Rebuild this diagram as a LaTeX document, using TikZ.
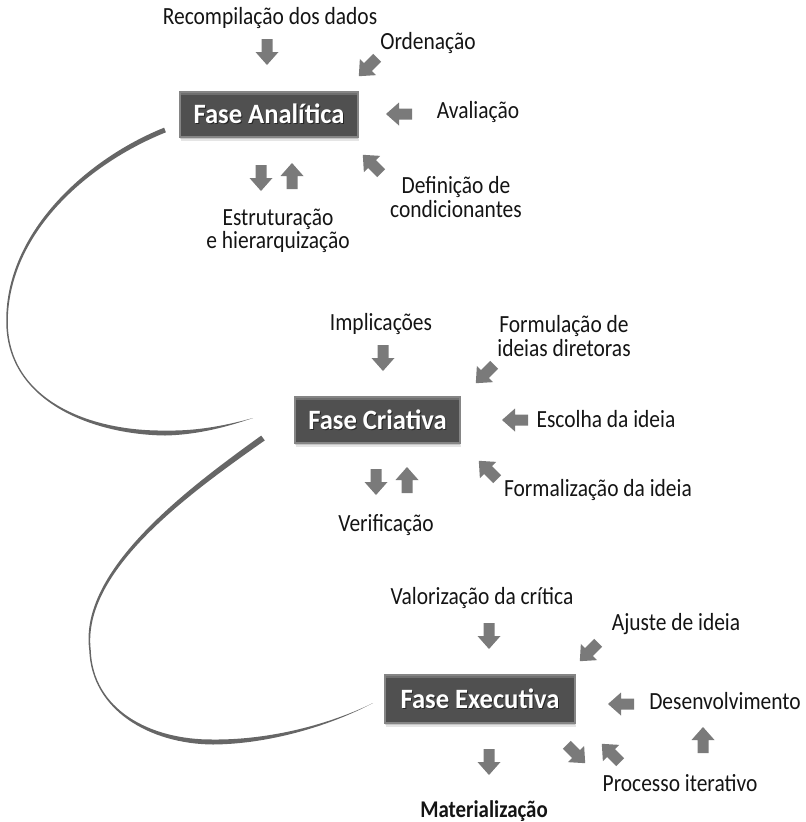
\documentclass[tikz,border=0pt]{standalone}
\usepackage{fontspec}
\setmainfont{Carlito}[FakeStretch=0.87]
\newfontfamily\phasefont{Carlito}[FakeStretch=0.95]

\definecolor{boxgray}{HTML}{505050}
\definecolor{boxedge}{HTML}{858585}
\definecolor{arrowgray}{HTML}{7A7A7A}
\definecolor{ribbongray}{HTML}{666666}
\definecolor{labelink}{HTML}{141414}

% white heading text with a soft dark drop shadow
\newcommand\phasetext[1]{\makebox[0pt][l]{\hspace{0.8pt}\raisebox{-0.8pt}{\color{black!85}#1}}#1}

\tikzset{
  phase/.style={rectangle, fill=boxgray, draw=boxedge, line width=0.9pt,
    text=white, inner sep=0pt,
    font=\phasefont\bfseries\fontsize{21}{25}\selectfont,
    preaction={fill=black, opacity=0.10, transform canvas={xshift=0.6pt,yshift=-3.2pt}},
    preaction={fill=black, opacity=0.14, transform canvas={xshift=0.3pt,yshift=-1.8pt}},
    path picture={\fill[white,opacity=0.18]
      (path picture bounding box.north west) rectangle
      ([yshift=-2.4pt]path picture bounding box.north east);}},
  lbl/.style={inner sep=0pt, align=center, text=labelink,
    font=\fontsize{18.5}{17.6}\selectfont},
  ribbon/.style={fill=ribbongray},
  blockarrow/.pic={\fill[arrowgray] (-13,-5.5) -- (0,-5.5) -- (0,-11.5) -- (13,0)
    -- (0,11.5) -- (0,5.5) -- (-13,5.5) -- cycle;}
}

\begin{document}
\begin{tikzpicture}[x=0.75pt,y=-0.75pt]
\useasboundingbox (0,0) rectangle (806,822);

% tapered ribbon from the analytic phase to the creative phase
\fill[ribbon] (164.1,127.7) .. controls (89.1,157.7) and (6.5,229.85) .. (6.25,320)
  .. controls (5.25,400) and (90,434.5) .. (165,435.5)
  .. controls (200,434.75) and (230.2,425.7) .. (253,418)
  .. controls (229.8,424.3) and (200,431.25) .. (165,430.5)
  .. controls (90,431.5) and (6.75,400) .. (7.75,320)
  .. controls (9.5,230.15) and (90.9,162.3) .. (165.9,132.3) -- cycle;

% tapered ribbon from the creative phase to the executive phase
\fill[ribbon] (261.2,435.6) .. controls (188.5,488) and (78.6,569.6) .. (89.25,650)
  .. controls (91.4,710.4) and (150,744) .. (213,744.5)
  .. controls (270,744) and (330.2,725.7) .. (373,703)
  .. controls (329.8,724.3) and (270,740) .. (213,739.5)
  .. controls (150,740) and (92.6,709.6) .. (90.75,650)
  .. controls (81.4,570.4) and (191.5,492) .. (264.8,440.4) -- cycle;

% phase boxes
\node[phase, minimum width=133.5pt, minimum height=33.75pt] (analitica) at (269,114.5) {\phasetext{Fase Analítica}};
\node[phase, minimum width=123.75pt, minimum height=34.5pt] (criativa) at (377.5,420) {\phasetext{Fase Criativa}};
\node[phase, minimum width=142.5pt, minimum height=36pt] (executiva) at (480,699) {\phasetext{Fase Executiva}};

% analytic phase
\node[lbl] (recomp) at (270,18) {Recompilação dos dados};
\node[lbl] (orden) at (428,43) {Ordenação};
\node[lbl] (aval) at (478,112) {Avaliação};
\node[lbl] (defcond) at (456,197) {Definição de\\condicionantes};
\node[lbl] (estrut) at (278,231) {Estruturação\\e hierarquização};
\pic[rotate=-90] (aRecomp) at (267,52) {blockarrow};
\pic[rotate=-135] (aOrden) at (368,67) {blockarrow};
\pic[rotate=180] (aAval) at (399,114) {blockarrow};
\pic[rotate=135] (aDef) at (372,164) {blockarrow};
\pic[rotate=-90] (aEstDown) at (261,178) {blockarrow};
\pic[rotate=90] (aEstUp) at (292,176) {blockarrow};

% creative phase
\node[lbl] (impl) at (381,324) {Implicações};
\node[lbl] (formul) at (564,336) {Formulação de\\ideias diretoras};
\node[lbl] (escolha) at (606,419) {Escolha da ideia};
\node[lbl] (formal) at (598,490) {Formalização da ideia};
\node[lbl] (verif) at (386,525) {Verificação};
\pic[rotate=-90] (aImpl) at (383,358) {blockarrow};
\pic[rotate=-135] (aFormul) at (485,374) {blockarrow};
\pic[rotate=180] (aEscolha) at (515,420) {blockarrow};
\pic[rotate=135] (aFormal) at (488,470) {blockarrow};
\pic[rotate=-90] (aVerDown) at (376,482) {blockarrow};
\pic[rotate=90] (aVerUp) at (407,480) {blockarrow};

% executive phase
\node[lbl] (valor) at (482,598) {Valorização da crítica};
\node[lbl] (ajuste) at (676,624) {Ajuste de ideia};
\node[lbl] (desenv) at (725,701) {Desenvolvimento};
\node[lbl] (proc) at (680,783) {Processo iterativo};
\node[lbl, font=\bfseries\fontsize{18}{20}\selectfont] (mater) at (484,811) {Materialização};
\pic[rotate=-90] (aValor) at (489,636) {blockarrow};
\pic[rotate=-135] (aAjuste) at (589,652) {blockarrow};
\pic[rotate=180] (aDesenv) at (621,704) {blockarrow};
\pic[rotate=90] (aDesUp) at (703,740) {blockarrow};
\pic[rotate=-45] (aProcOut) at (576,754) {blockarrow};
\pic[rotate=135] (aProcIn) at (611,753) {blockarrow};
\pic[rotate=-90] (aMater) at (489,762) {blockarrow};
\end{tikzpicture}
\end{document}
